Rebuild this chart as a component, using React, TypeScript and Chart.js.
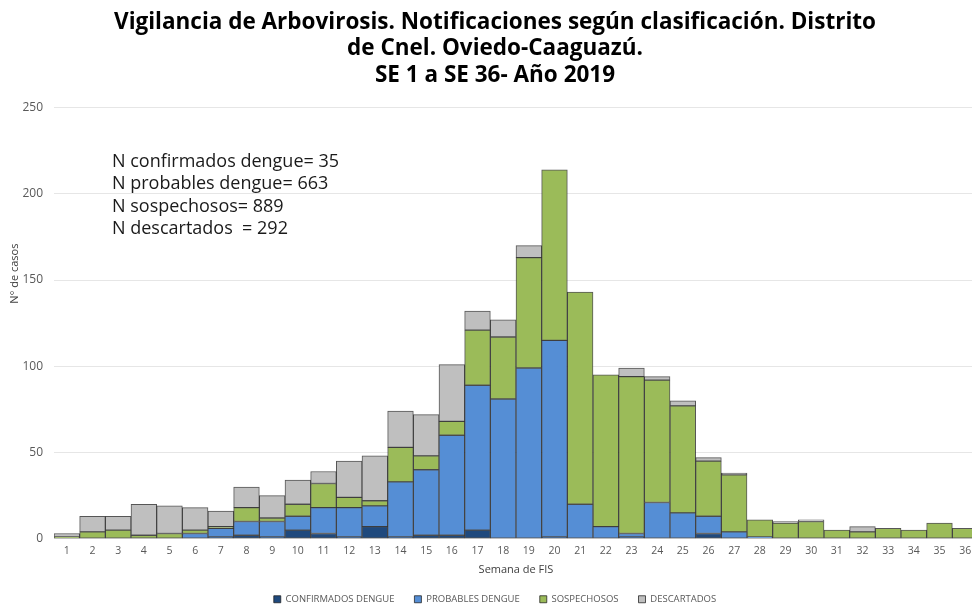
import React, { useEffect, useRef } from 'react';
import { Chart, registerables } from 'chart.js';
Chart.register(...registerables);

const weeks = ['1','2','3','4','5','6','7','8','9','10','11','12','13','14','15','16','17','18','19','20','21','22','23','24','25','26','27','28','29','30','31','32','33','34','35','36'];
const confirmados = [0,0,0,0,0,0,1,2,1,5,3,1,7,1,2,2,5,0,0,1,0,0,1,0,0,3,0,0,0,0,0,0,0,0,0,0];
const probables = [0,0,0,0,0,3,5,8,9,8,15,17,12,32,38,58,84,81,99,114,20,7,2,21,15,10,4,1,0,0,0,0,0,0,0,0];
const sospechosos = [1,4,5,2,3,2,1,8,2,7,14,6,3,20,8,8,32,36,64,99,123,88,91,71,62,32,33,10,9,10,5,4,6,5,9,6];
const descartados = [2,9,8,18,16,13,9,12,13,14,7,21,26,21,24,33,11,10,7,0,0,0,5,2,3,2,1,0,1,1,0,3,0,0,0,0];
const yTicks = [0, 50, 100, 150, 200, 250];
const titleLines = [
  'Vigilancia de Arbovirosis. Notificaciones según clasificación. Distrito',
  'de Cnel. Oviedo-Caaguazú.',
  'SE 1 a SE 36- Año 2019',
];
const summaryLines = [
  'N confirmados dengue= 35',
  'N probables dengue= 663',
  'N sospechosos= 889',
  'N descartados  = 292',
];

const FONT = "'Open Sans', 'Noto Sans', sans-serif";

const nz = (a: number[]) => a.map((v) => (v === 0 ? null : v));

const extraText = {
  id: 'extraText',
  afterDraw(chart: any) {
    const { ctx, chartArea } = chart;
    ctx.save();
    ctx.fillStyle = '#1a1a1a';
    ctx.font = `18px ${FONT}`;
    ctx.textAlign = 'left';
    ctx.textBaseline = 'middle';
    const x0 = chartArea.left + 58;
    const y0 = chartArea.top + 54;
    summaryLines.forEach((l, i) => ctx.fillText(l, x0, y0 + i * 22.5));
    ctx.translate(15, chartArea.top + (chartArea.bottom - chartArea.top) * 0.385);
    ctx.rotate(-Math.PI / 2);
    ctx.textAlign = 'center';
    ctx.fillStyle = '#404040';
    ctx.font = `11px ${FONT}`;
    ctx.fillText('N° de casos', 0, 0);
    ctx.restore();
  },
};

export default function App() {
  const ref = useRef<HTMLCanvasElement>(null);
  useEffect(() => {
    if (!ref.current) return;
    const border = 'rgba(30,30,30,0.75)';
    const chart = new Chart(ref.current, {
      type: 'bar',
      data: {
        labels: weeks,
        datasets: [
          { label: 'CONFIRMADOS DENGUE', data: nz(confirmados), backgroundColor: '#1F497D', borderColor: border, borderWidth: 1 },
          { label: 'PROBABLES DENGUE', data: nz(probables), backgroundColor: '#558ED5', borderColor: border, borderWidth: 1 },
          { label: 'SOSPECHOSOS', data: nz(sospechosos), backgroundColor: '#9BBB59', borderColor: border, borderWidth: 1 },
          { label: 'DESCARTADOS', data: nz(descartados), backgroundColor: '#BFBFBF', borderColor: border, borderWidth: 1 },
        ],
      },
      options: {
        responsive: false,
        animation: false,
        layout: { padding: { left: 12, right: 12, top: 0, bottom: 2 } },
        datasets: { bar: { barPercentage: 1, categoryPercentage: 1, borderSkipped: false } },
        plugins: {
          title: {
            display: true,
            text: titleLines,
            color: '#000',
            font: { family: FONT, size: 22.5, weight: 'bold', lineHeight: 1.18 },
            padding: { top: 9, bottom: 19 },
          },
          legend: {
            position: 'bottom',
            labels: {
              boxWidth: 7,
              boxHeight: 7,
              padding: 20,
              color: '#595959',
              font: { family: FONT, size: 9.5 },
            },
          },
          tooltip: { enabled: false },
        },
        scales: {
          x: {
            stacked: true,
            grid: { display: false, drawTicks: false },
            border: { display: true, color: '#d9d9d9' },
            ticks: { color: '#595959', font: { family: FONT, size: 10.5 }, padding: 6, maxRotation: 0, autoSkip: false },
            title: { display: true, text: 'Semana de FIS', color: '#404040', font: { family: FONT, size: 11 }, padding: { top: 0, bottom: -2 } },
          },
          y: {
            stacked: true,
            min: 0,
            max: 250,
            afterFit: (s: any) => { s.width = 42; },
            afterBuildTicks: (s: any) => { s.ticks = yTicks.map((v) => ({ value: v })); },
            grid: { color: '#e6e6e6', drawTicks: false },
            border: { display: false },
            ticks: { color: '#595959', font: { family: FONT, size: 12 }, padding: 11 },
          },
        },
      },
      plugins: [extraText],
    });
    return () => chart.destroy();
  }, []);
  return (
    <div style={{ position: 'fixed', left: 0, top: 0, width: 972, height: 606, overflow: 'hidden', background: '#fff' }}>
      <canvas ref={ref} width={990} height={616} style={{ display: 'block' }} />
    </div>
  );
}
